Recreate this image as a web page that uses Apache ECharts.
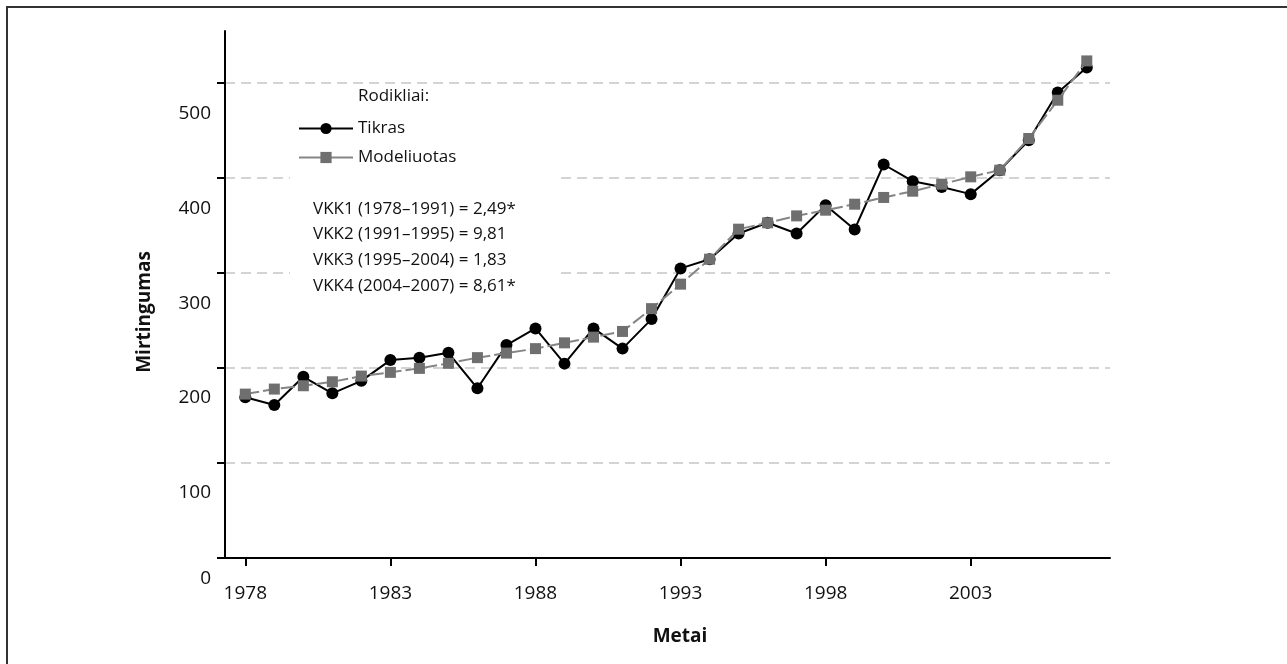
<!DOCTYPE html>
<html>
<head>
<meta charset="utf-8">
<script src="https://cdn.jsdelivr.net/npm/echarts@6/dist/echarts.min.js"></script>
<style>
html,body{margin:0;padding:0;background:#fff;}
#c{width:1287px;height:664px;}
</style>
</head>
<body>
<div id="c"></div>
<script>
const years = [1978,1979,1980,1981,1982,1983,1984,1985,1986,1987,1988,1989,1990,1991,1992,1993,1994,1995,1996,1997,1998,1999,2000,2001,2002,2003,2004,2005,2006,2007];
const tikras = [169.2,161.1,190.8,173.4,186.6,208.4,210.8,216.1,178.7,224.2,241.8,204.7,241.8,220.5,251.6,305.0,314.7,341.8,353.0,341.8,371.6,346.0,414.4,396.8,390.8,383.2,408.4,440.0,490.2,516.5];
const modeliuotas = [172.6,177.9,181.4,185.6,191.6,195.5,199.7,205.0,211.0,215.8,220.5,226.6,232.6,238.6,262.6,288.4,314.7,346.3,353.0,360.3,366.3,372.6,379.7,386.3,393.7,401.4,408.4,441.8,482.1,523.5];
const xTicks = [1978,1983,1988,1993,1998,2003];
const yTicks = [0,100,200,300,400,500];
const vkkLines = ['VKK1 (1978–1991) = 2,49*','VKK2 (1991–1995) = 9,81','VKK3 (1995–2004) = 1,83','VKK4 (2004–2007) = 8,61*'];
const seriesNames = ['Tikras','Modeliuotas'];
const legendTitle = 'Rodikliai:';
const xName = 'Metai';
const yName = 'Mirtingumas';

const FONT = '"Open Sans", "Noto Sans", sans-serif';
const chart = echarts.init(document.getElementById('c'), null, {renderer:'canvas'});

const pair = (arr) => years.map((y,i)=>[y,arr[i]]);

chart.setOption({
  animation:false,
  backgroundColor:'#fff',
  grid:{left:225, top:31, right:177, bottom:106, containLabel:false},
  xAxis:{
    type:'value', min:1977.3, max:2007.8,
    axisLine:{show:true, lineStyle:{color:'#000', width:2}},
    axisTick:{show:true, length:8, lineStyle:{color:'#000', width:2}, customValues:xTicks},
    axisLabel:{show:true, customValues:xTicks, margin:26, fontSize:19, color:'#111', fontFamily:FONT,
      formatter:(v)=>String(v)},
    splitLine:{show:false}
  },
  yAxis:{
    type:'value', min:0, max:555, interval:100,
    axisLine:{show:true, lineStyle:{color:'#000', width:2}},
    axisTick:{show:true, length:8, lineStyle:{color:'#000', width:2}, customValues:yTicks},
    axisLabel:{show:true, customValues:yTicks, margin:14, fontSize:19, color:'#111', fontFamily:FONT, verticalAlign:'middle',
      formatter:(v)=> v===0 ? '{z|0}' : '{a|'+v+'}',
      rich:{
        a:{fontSize:19, color:'#111', fontFamily:FONT, padding:[60,0,0,0]},
        z:{fontSize:19, color:'#111', fontFamily:FONT, padding:[42,0,0,0]}
      }
    },
    splitLine:{show:true, showMinLine:false, showMaxLine:true, lineStyle:{color:'#d4d4d4', width:2, type:[10,6]}}
  },
  legend:{
    show:true, orient:'vertical', left:298, top:120, padding:0,
    itemWidth:54, itemHeight:14, itemGap:12,
    textStyle:{fontSize:17, color:'#111', fontFamily:FONT},
    lineStyle:{type:'solid'},
    data:seriesNames
  },
  series:[
    {
      name:seriesNames[0], type:'line', data:pair(tikras),
      symbol:'circle', symbolSize:12,
      itemStyle:{color:'#000'},
      lineStyle:{color:'#000', width:2},
      z:2
    },
    {
      name:seriesNames[1], type:'line', data:pair(modeliuotas),
      symbol:'rect', symbolSize:11,
      itemStyle:{color:'#6f6f6f'},
      lineStyle:{color:'#858585', width:2, type:[14,4]},
      z:3
    }
  ],
  graphic:[
    {type:'line', shape:{x1:6,y1:7,x2:1287,y2:7}, style:{stroke:'#333', lineWidth:2}, z:10},
    {type:'line', shape:{x1:7,y1:6,x2:7,y2:664}, style:{stroke:'#333', lineWidth:2}, z:10},
    {type:'rect', shape:{x:290, y:168, width:270, height:128}, style:{fill:'#fff'}, z:1},
    {type:'text', left:358, top:88, style:{text:legendTitle, fontSize:17, fill:'#111', fontFamily:FONT}, z:5},
    {type:'text', left:313, top:196, style:{text:vkkLines.join('\n'), fontSize:17, lineHeight:25.7, fill:'#111', fontFamily:FONT}, z:5},
    {type:'text', x:145, y:312, rotation:Math.PI/2, style:{text:yName, fontSize:19, fontWeight:'bold', fill:'#111', fontFamily:FONT, align:'center', verticalAlign:'middle'}, z:5},
    {type:'text', x:680, y:637, style:{text:xName, fontSize:19, fontWeight:'bold', fill:'#111', fontFamily:FONT, align:'center', verticalAlign:'middle'}, z:5}
  ]
});
</script>
</body>
</html>
